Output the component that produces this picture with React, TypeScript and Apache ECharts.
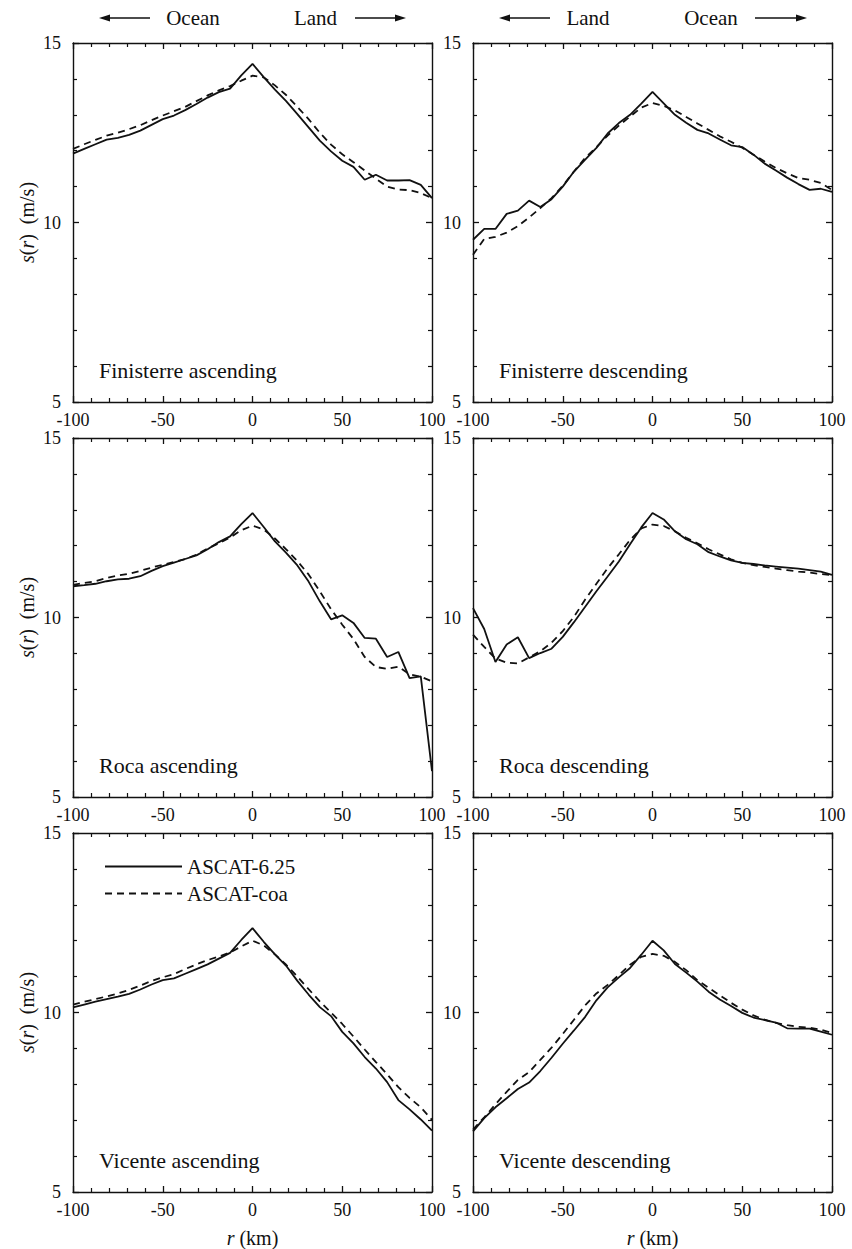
import React, { useEffect, useRef } from "react";
import * as echarts from "echarts";

const rKm = [-100, -93.75, -87.5, -81.25, -75, -68.75, -62.5, -56.25, -50, -43.75, -37.5, -31.25, -25, -18.75, -12.5, -6.25, 0, 6.25, 12.5, 18.75, 25, 31.25, 37.5, 43.75, 50, 56.25, 62.5, 68.75, 75, 81.25, 87.5, 93.75, 100];

const finisterreAscSolid = [11.92, 12.05, 12.18, 12.31, 12.36, 12.44, 12.56, 12.72, 12.88, 12.98, 13.13, 13.3, 13.48, 13.63, 13.73, 14.1, 14.42, 14.05, 13.7, 13.38, 13.02, 12.65, 12.28, 11.98, 11.72, 11.55, 11.19, 11.33, 11.17, 11.17, 11.18, 11.05, 10.68];
const finisterreAscDashed = [12.05, 12.18, 12.3, 12.42, 12.5, 12.6, 12.71, 12.85, 12.98, 13.1, 13.22, 13.38, 13.54, 13.68, 13.8, 13.95, 14.09, 14.04, 13.82, 13.55, 13.22, 12.88, 12.5, 12.17, 11.9, 11.68, 11.45, 11.22, 11.0, 10.92, 10.9, 10.82, 10.68];

const finisterreDescSolid = [9.52, 9.82, 9.82, 10.24, 10.33, 10.61, 10.43, 10.65, 11.0, 11.42, 11.75, 12.08, 12.48, 12.77, 13.0, 13.31, 13.64, 13.32, 13.0, 12.78, 12.58, 12.48, 12.31, 12.15, 12.1, 11.89, 11.64, 11.45, 11.25, 11.07, 10.91, 10.94, 10.85];
const finisterreDescDashed = [9.1, 9.54, 9.6, 9.72, 9.9, 10.14, 10.4, 10.68, 11.02, 11.42, 11.8, 12.1, 12.42, 12.7, 12.95, 13.2, 13.33, 13.25, 13.12, 12.94, 12.76, 12.58, 12.4, 12.25, 12.08, 11.89, 11.7, 11.52, 11.37, 11.24, 11.19, 11.1, 10.91];

const rocaAscSolid = [10.87, 10.9, 10.94, 11.01, 11.06, 11.08, 11.15, 11.3, 11.43, 11.53, 11.63, 11.73, 11.9, 12.1, 12.26, 12.6, 12.91, 12.52, 12.12, 11.8, 11.45, 11.0, 10.45, 9.95, 10.06, 9.85, 9.43, 9.41, 8.9, 9.04, 8.31, 8.36, 5.72];
const rocaAscDashed = [10.91, 10.96, 11.01, 11.1, 11.17, 11.22, 11.3, 11.39, 11.47, 11.55, 11.63, 11.75, 11.92, 12.07, 12.23, 12.43, 12.56, 12.45, 12.2, 11.9, 11.57, 11.2, 10.73, 10.23, 9.8, 9.4, 8.9, 8.62, 8.57, 8.63, 8.42, 8.35, 8.22];

const rocaDescSolid = [10.26, 9.68, 8.76, 9.25, 9.45, 8.87, 9.01, 9.13, 9.46, 9.87, 10.3, 10.73, 11.14, 11.56, 12.04, 12.51, 12.91, 12.73, 12.4, 12.18, 12.04, 11.82, 11.7, 11.59, 11.52, 11.49, 11.45, 11.42, 11.39, 11.36, 11.32, 11.28, 11.19];
const rocaDescDashed = [9.52, 9.18, 8.86, 8.74, 8.72, 8.89, 9.06, 9.3, 9.62, 10.02, 10.5, 10.94, 11.37, 11.76, 12.16, 12.48, 12.59, 12.55, 12.4, 12.22, 12.07, 11.9, 11.76, 11.62, 11.52, 11.46, 11.41, 11.36, 11.32, 11.28, 11.25, 11.21, 11.18];

const vicenteAscSolid = [10.14, 10.22, 10.3, 10.37, 10.44, 10.52, 10.64, 10.78, 10.9, 10.95, 11.08, 11.21, 11.34, 11.5, 11.66, 12.02, 12.35, 11.97, 11.62, 11.3, 10.88, 10.5, 10.15, 9.9, 9.46, 9.14, 8.76, 8.44, 8.06, 7.56, 7.3, 7.02, 6.71];
const vicenteAscDashed = [10.22, 10.3, 10.37, 10.45, 10.53, 10.63, 10.75, 10.88, 10.98, 11.07, 11.21, 11.34, 11.46, 11.56, 11.67, 11.84, 12.0, 11.87, 11.62, 11.33, 11.0, 10.65, 10.31, 10.0, 9.68, 9.33, 8.97, 8.62, 8.28, 7.92, 7.62, 7.36, 7.01];

const vicenteDescSolid = [6.69, 7.06, 7.36, 7.61, 7.87, 8.05, 8.37, 8.74, 9.13, 9.5, 9.88, 10.34, 10.7, 10.98, 11.24, 11.61, 12.0, 11.73, 11.35, 11.11, 10.86, 10.58, 10.36, 10.18, 9.99, 9.86, 9.79, 9.72, 9.56, 9.55, 9.55, 9.47, 9.38];
const vicenteDescDashed = [6.74, 7.08, 7.44, 7.79, 8.12, 8.34, 8.68, 9.02, 9.4, 9.8, 10.2, 10.53, 10.77, 11.04, 11.33, 11.55, 11.63, 11.58, 11.41, 11.18, 10.9, 10.69, 10.48, 10.27, 10.08, 9.92, 9.8, 9.71, 9.65, 9.6, 9.58, 9.52, 9.43];

const panelTitles = ["Finisterre ascending", "Finisterre descending", "Roca ascending", "Roca descending", "Vicente ascending", "Vicente descending"];
const solidSeries = [finisterreAscSolid, finisterreDescSolid, rocaAscSolid, rocaDescSolid, vicenteAscSolid, vicenteDescSolid];
const dashedSeries = [finisterreAscDashed, finisterreDescDashed, rocaAscDashed, rocaDescDashed, vicenteAscDashed, vicenteDescDashed];
const seriesNames = ["ASCAT-6.25", "ASCAT-coa"];
const leftHeader = ["Ocean", "Land"];
const rightHeader = ["Land", "Ocean"];
const xRange = [-100, 100];
const yRange = [5, 15];

const FONT = "Liberation Serif";
const INK = "#111";

const colLeft = [73, 473];
const rowTop = [43, 438, 833];
const SIZE = 359;

function arrow(x1: number, x2: number, y: number, dir: "left" | "right") {
  const head = 11;
  const hw = 3.6;
  const tip = dir === "left" ? x1 : x2;
  const base = dir === "left" ? x1 + head : x2 - head;
  return [
    {
      type: "line",
      shape: { x1: dir === "left" ? base : x1, y1: y, x2: dir === "left" ? x2 : base, y2: y },
      style: { stroke: INK, lineWidth: 1.4 },
    },
    {
      type: "polygon",
      shape: { points: [[tip, y], [base, y - hw], [base, y + hw]] },
      style: { fill: INK },
    },
  ];
}

export default function App() {
  const ref = useRef<HTMLDivElement>(null);
  useEffect(() => {
    document.body.style.margin = "0";
    if (!ref.current) return;
    const chart = echarts.init(ref.current, null, { renderer: "svg" });

    const grids: any[] = [];
    const xAxes: any[] = [];
    const yAxes: any[] = [];
    const series: any[] = [];
    const graphics: any[] = [];

    for (let i = 0; i < 6; i++) {
      const col = i % 2;
      const row = Math.floor(i / 2);
      const left = colLeft[col];
      const top = rowTop[row];
      grids.push({ left, top, width: SIZE, height: SIZE, show: false });

      const lineStyle = { color: INK, width: 1.4 };
      const tickBase = {
        show: true,
        inside: true,
        length: 6,
        lineStyle: { color: INK, width: 1.3 },
      };
      const minor = { show: true, splitNumber: 5, length: 4, lineStyle: { color: INK, width: 1.2 } };

      xAxes.push({
        type: "value",
        gridIndex: i,
        position: "bottom",
        min: xRange[0],
        max: xRange[1],
        interval: 50,
        axisLine: { show: true, onZero: false, lineStyle },
        axisTick: tickBase,
        minorTick: minor,
        splitLine: { show: false },
        axisLabel: { show: true, margin: 9, fontFamily: FONT, fontSize: 18, color: INK },
        name: row === 2 ? "{i|r} (km)" : "",
        nameLocation: "middle",
        nameGap: 36,
        nameTextStyle: {
          fontFamily: FONT,
          fontSize: 20,
          color: INK,
          rich: { i: { fontStyle: "italic", fontFamily: FONT, fontSize: 20, color: INK } },
        },
      });
      xAxes.push({
        type: "value",
        gridIndex: i,
        position: "top",
        min: xRange[0],
        max: xRange[1],
        interval: 50,
        axisLine: { show: true, onZero: false, lineStyle },
        axisTick: tickBase,
        minorTick: minor,
        splitLine: { show: false },
        axisLabel: { show: false },
      });
      yAxes.push({
        type: "value",
        gridIndex: i,
        position: "left",
        min: yRange[0],
        max: yRange[1],
        interval: 5,
        axisLine: { show: true, onZero: false, lineStyle },
        axisTick: tickBase,
        minorTick: minor,
        splitLine: { show: false },
        axisLabel: { show: true, margin: 12, fontFamily: FONT, fontSize: 18, color: INK },
        name: col === 0 ? "{i|s}({i|r})  (m/s)" : "",
        nameLocation: "middle",
        nameGap: 36,
        nameRotate: 90,
        nameTextStyle: {
          fontFamily: FONT,
          fontSize: 20,
          color: INK,
          rich: { i: { fontStyle: "italic", fontFamily: FONT, fontSize: 20, color: INK } },
        },
      });
      yAxes.push({
        type: "value",
        gridIndex: i,
        position: "right",
        min: yRange[0],
        max: yRange[1],
        interval: 5,
        axisLine: { show: true, onZero: false, lineStyle },
        axisTick: tickBase,
        minorTick: minor,
        splitLine: { show: false },
        axisLabel: { show: false },
      });

      series.push({
        name: seriesNames[0],
        type: "line",
        xAxisIndex: 2 * i,
        yAxisIndex: 2 * i,
        data: rKm.map((r, j) => [r, solidSeries[i][j]]),
        symbol: "none",
        silent: true,
        lineStyle: { color: INK, width: 1.8, type: "solid" },
        itemStyle: { color: INK },
        z: 3,
      });
      series.push({
        name: seriesNames[1],
        type: "line",
        xAxisIndex: 2 * i,
        yAxisIndex: 2 * i,
        data: rKm.map((r, j) => [r, dashedSeries[i][j]]),
        symbol: "none",
        silent: true,
        lineStyle: { color: INK, width: 1.8, type: [7, 5] },
        itemStyle: { color: INK },
        z: 2,
      });

      graphics.push({
        type: "text",
        x: left + 26,
        y: top + 327,
        style: {
          text: panelTitles[i],
          fontFamily: FONT,
          fontSize: 22,
          fill: INK,
          verticalAlign: "middle",
          align: "left",
        },
      });
    }

    // header annotations
    const hy = 18;
    graphics.push(...arrow(99, 150, hy, "left"));
    graphics.push({ type: "text", x: 193, y: hy, style: { text: leftHeader[0], fontFamily: FONT, fontSize: 21, fill: INK, align: "center", verticalAlign: "middle" } });
    graphics.push({ type: "text", x: 315.5, y: hy, style: { text: leftHeader[1], fontFamily: FONT, fontSize: 21, fill: INK, align: "center", verticalAlign: "middle" } });
    graphics.push(...arrow(355, 406, hy, "right"));

    graphics.push(...arrow(499, 550, hy, "left"));
    graphics.push({ type: "text", x: 588, y: hy, style: { text: rightHeader[0], fontFamily: FONT, fontSize: 21, fill: INK, align: "center", verticalAlign: "middle" } });
    graphics.push({ type: "text", x: 711, y: hy, style: { text: rightHeader[1], fontFamily: FONT, fontSize: 21, fill: INK, align: "center", verticalAlign: "middle" } });
    graphics.push(...arrow(755, 807, hy, "right"));

    chart.setOption({
      animation: false,
      backgroundColor: "#fff",
      grid: grids,
      xAxis: xAxes,
      yAxis: yAxes,
      series,
      legend: {
        show: true,
        data: seriesNames,
        left: 99,
        top: 851,
        orient: "vertical",
        itemWidth: 77,
        itemHeight: 14,
        itemGap: 6,
        selectedMode: false,
        itemStyle: { opacity: 0 },
        textStyle: { fontFamily: FONT, fontSize: 21, color: INK, padding: [0, 0, 0, 0] },
      },
      graphic: graphics,
    });

    return () => chart.dispose();
  }, []);

  return <div ref={ref} style={{ width: 852, height: 1249 }} />;
}
